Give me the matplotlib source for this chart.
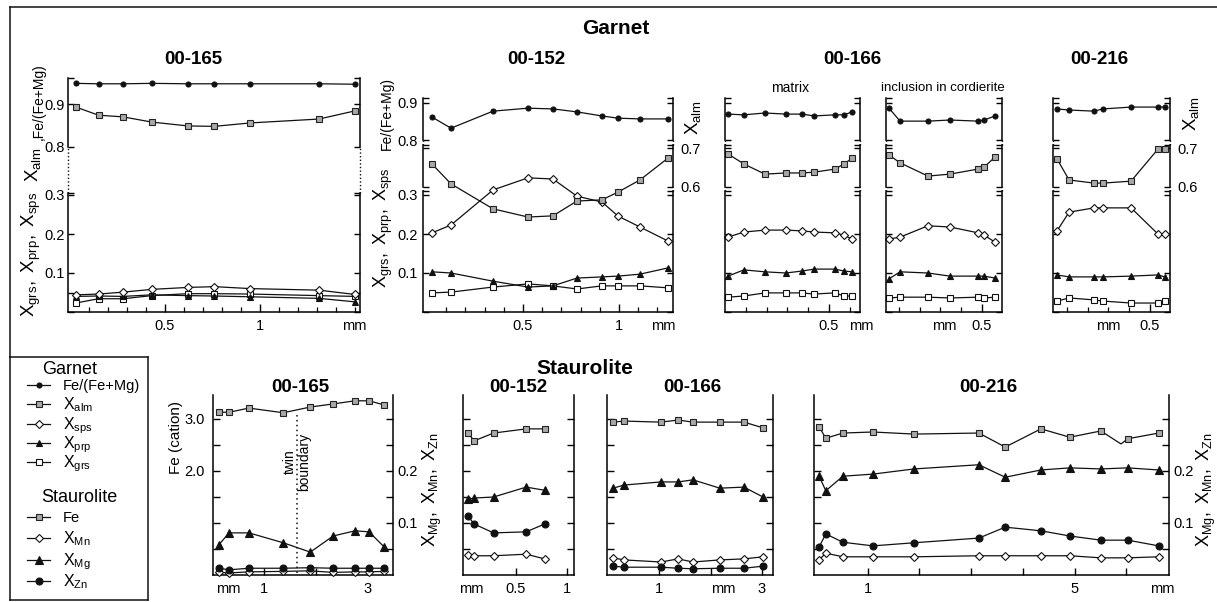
import numpy as np
import matplotlib.pyplot as plt
from matplotlib.lines import Line2D

plt.rcParams['font.family'] = ['Liberation Sans', 'DejaVu Sans']
plt.rcParams['mathtext.fontset'] = 'custom'
plt.rcParams['mathtext.rm'] = 'Liberation Sans'
plt.rcParams['mathtext.it'] = 'Liberation Sans:italic'
plt.rcParams['mathtext.bf'] = 'Liberation Sans:bold'

# ---------------- garnet profiles (distance in mm) ----------------
g165_x = [0.03, 0.15, 0.28, 0.43, 0.62, 0.76, 0.95, 1.31, 1.50]
g165_fe = [0.948, 0.947, 0.947, 0.948, 0.947, 0.947, 0.947, 0.947, 0.946]
g165_alm = [0.893, 0.874, 0.870, 0.858, 0.849, 0.848, 0.856, 0.865, 0.884]
g165_sps = [0.044, 0.046, 0.051, 0.058, 0.063, 0.065, 0.060, 0.056, 0.045]
g165_prp = [0.040, 0.041, 0.040, 0.044, 0.042, 0.041, 0.039, 0.035, 0.026]
g165_grs = [0.023, 0.034, 0.034, 0.042, 0.047, 0.047, 0.046, 0.042, 0.040]

g152_x = [0.026, 0.125, 0.344, 0.526, 0.656, 0.781, 0.911, 0.995, 1.109, 1.255]
g152_fe = [0.862, 0.832, 0.878, 0.886, 0.884, 0.876, 0.865, 0.859, 0.857, 0.857]
g152_alm = [0.659, 0.608, 0.544, 0.523, 0.526, 0.564, 0.567, 0.587, 0.618, 0.674]
g152_sps = [0.203, 0.223, 0.313, 0.344, 0.341, 0.297, 0.282, 0.246, 0.218, 0.182]
g152_prp = [0.103, 0.100, 0.079, 0.064, 0.067, 0.087, 0.090, 0.092, 0.097, 0.113]
g152_grs = [0.049, 0.051, 0.064, 0.072, 0.067, 0.059, 0.067, 0.067, 0.067, 0.062]

g166m_x = [0.014, 0.091, 0.192, 0.293, 0.370, 0.428, 0.529, 0.572, 0.611]
g166m_fe = [0.870, 0.868, 0.873, 0.870, 0.870, 0.865, 0.868, 0.868, 0.876]
g166m_alm = [0.685, 0.659, 0.633, 0.636, 0.636, 0.638, 0.646, 0.659, 0.674]
g166m_sps = [0.192, 0.205, 0.210, 0.210, 0.208, 0.205, 0.203, 0.197, 0.187]
g166m_prp = [0.092, 0.108, 0.103, 0.100, 0.105, 0.110, 0.110, 0.105, 0.103]
g166m_grs = [0.038, 0.041, 0.049, 0.049, 0.049, 0.046, 0.049, 0.041, 0.041]

g166i_x = [0.053, 0.106, 0.240, 0.346, 0.481, 0.510, 0.563]
g166i_fe = [0.886, 0.851, 0.851, 0.854, 0.851, 0.854, 0.865]
g166i_alm = [0.682, 0.662, 0.628, 0.633, 0.646, 0.651, 0.677]
g166i_sps = [0.187, 0.192, 0.221, 0.218, 0.203, 0.197, 0.179]
g166i_prp = [0.085, 0.103, 0.100, 0.092, 0.092, 0.092, 0.087]
g166i_grs = [0.036, 0.038, 0.038, 0.036, 0.038, 0.036, 0.038]

g216_x = [0.053, 0.111, 0.231, 0.274, 0.409, 0.538, 0.572]
g216_fe = [0.884, 0.881, 0.878, 0.884, 0.889, 0.889, 0.889]
g216_alm = [0.672, 0.618, 0.610, 0.610, 0.615, 0.697, 0.697]
g216_sps = [0.208, 0.256, 0.267, 0.267, 0.267, 0.200, 0.200]
g216_prp = [0.095, 0.090, 0.090, 0.090, 0.092, 0.095, 0.090]
g216_grs = [0.028, 0.036, 0.031, 0.028, 0.023, 0.023, 0.028]

# ---------------- staurolite profiles ----------------
s165_x = [0.13, 0.33, 0.71, 1.37, 1.89, 2.33, 2.75, 3.02, 3.31]
s165_fe = [3.13, 3.13, 3.21, 3.12, 3.23, 3.29, 3.35, 3.35, 3.27]
s165_mg = [0.058, 0.081, 0.081, 0.062, 0.044, 0.075, 0.085, 0.083, 0.054]
s165_zn = [0.013, 0.010, 0.013, 0.013, 0.014, 0.013, 0.013, 0.013, 0.013]
s165_mn = [0.005, 0.004, 0.006, 0.007, 0.008, 0.005, 0.006, 0.006, 0.007]
s165_twin = 1.63

s152_x = [0.03, 0.09, 0.28, 0.60, 0.78]
s152_fe = [2.73, 2.58, 2.73, 2.81, 2.81]
s152_mg = [0.146, 0.148, 0.150, 0.169, 0.163]
s152_zn = [0.113, 0.098, 0.081, 0.083, 0.098]
s152_mn = [0.038, 0.037, 0.037, 0.040, 0.031]

s166_x = [0.11, 0.32, 1.04, 1.37, 1.66, 2.18, 2.65, 3.02]
s166_fe = [2.94, 2.96, 2.94, 2.98, 2.94, 2.94, 2.94, 2.83]
s166_mg = [0.167, 0.173, 0.179, 0.179, 0.183, 0.167, 0.169, 0.150]
s166_mn = [0.033, 0.029, 0.025, 0.031, 0.025, 0.029, 0.031, 0.035]
s166_zn = [0.017, 0.015, 0.015, 0.013, 0.012, 0.013, 0.013, 0.017]

s216_x = [0.06, 0.19, 0.52, 1.10, 1.90, 3.15, 3.66, 4.35, 4.91, 5.51, 6.03, 6.63]
s216_fe_x = [0.06, 0.19, 0.52, 1.10, 1.90, 3.15, 3.66, 4.35, 4.91, 5.51, 5.90, 6.03, 6.63]
s216_fe = [2.85, 2.63, 2.73, 2.75, 2.71, 2.73, 2.46, 2.81, 2.65, 2.77, 2.52, 2.62, 2.73]
s216_fe_nomark = [10]
s216_mg = [0.190, 0.162, 0.190, 0.194, 0.204, 0.212, 0.188, 0.202, 0.206, 0.204, 0.206, 0.202]
s216_zn = [0.054, 0.079, 0.063, 0.056, 0.062, 0.071, 0.092, 0.085, 0.075, 0.067, 0.067, 0.056]
s216_mn = [0.029, 0.042, 0.035, 0.035, 0.035, 0.037, 0.037, 0.037, 0.037, 0.033, 0.033, 0.035]

leg_garnet = ['Fe/(Fe+Mg)', r'$\mathregular{X_{alm}}$', r'$\mathregular{X_{sps}}$',
              r'$\mathregular{X_{prp}}$', r'$\mathregular{X_{grs}}$']
leg_staur = ['Fe', r'$\mathregular{X_{Mn}}$', r'$\mathregular{X_{Mg}}$', r'$\mathregular{X_{Zn}}$']

# ---------------- styles / layout (pixels of a 1217x602 canvas) ----------------
W, H = 1217, 602
LW = 0.9
INK = '#111111'
ST = {
    'fe': dict(marker='o', ms=3.6, mfc=INK, mec=INK),
    'alm': dict(marker='s', ms=4.2, mfc='#a8a8a8', mec='#222222'),
    'sps': dict(marker='D', ms=4.3, mfc='white', mec=INK),
    'prp': dict(marker='^', ms=5.0, mfc=INK, mec=INK),
    'grs': dict(marker='s', ms=4.2, mfc='white', mec=INK),
}
STA = {
    'Fe': dict(marker='s', ms=4.3, mfc='#a8a8a8', mec='#222222'),
    'Mn': dict(marker='D', ms=4.3, mfc='white', mec=INK),
    'Mg': dict(marker='^', ms=5.6, mfc=INK, mec=INK),
    'Zn': dict(marker='o', ms=5.0, mfc=INK, mec=INK),
}
YB = 312                  # garnet x-axis row
LOW = (0.0, 312, 390)     # value, pixel row, pixels per unit
FE1 = (0.9, 104, 430)
FE2 = (0.9, 103, 370)
ALM = (0.7, 148, 390)
SFE = (0.0, 575, 52)
SX = (0.0, 575, 520)

fig = plt.figure(figsize=(W / 100, H / 100), dpi=100)


def fx(x):
    return x / W


def fy(y):
    return 1 - y / H


def put(x, y, s, size=10.5, **kw):
    fig.text(fx(x), fy(y), s, fontsize=size, ha=kw.pop('ha', 'center'),
             va=kw.pop('va', 'center'), **kw)


def new_axes(x0, x1, ytop, ybot, xzero, kx, sc):
    vref, yref, ky = sc
    ax = fig.add_axes([fx(x0), fy(ybot), (x1 - x0) / W, (ybot - ytop) / H])
    ax.set_xlim((x0 - xzero) / kx, (x1 - xzero) / kx)
    ax.set_ylim(vref - (ybot - yref) / ky, vref + (yref - ytop) / ky)
    ax.patch.set_visible(False)
    for s in ax.spines.values():
        s.set_visible(False)
        s.set_linewidth(1.1)
    ax.set_xticks([])
    ax.set_yticks([])
    return ax


def pix2val(sc, y):
    vref, yref, ky = sc
    return vref + (yref - y) / ky


def segment(ax, sc, ytop, ybot, ticks, labels, lab_left=False, lab_right=False, pad=3):
    lo, hi = pix2val(sc, ybot), pix2val(sc, ytop)
    for side in ('left', 'right'):
        ax.spines[side].set_visible(True)
        ax.spines[side].set_bounds(lo, hi)
    locs, labs = list(ticks), list(labels)
    for end in (lo, hi):
        if min(abs(end - t) for t in ticks) > 1e-3:
            locs.append(end)
            labs.append('')
    ax.set_yticks(locs, labs)
    ax.tick_params(axis='y', direction='in', left=True, right=True, length=4, width=1,
                   labelleft=lab_left, labelright=lab_right, labelsize=10.5, pad=pad)


def dotted(ax, sc, ytop, ybot):
    lo, hi = pix2val(sc, ybot), pix2val(sc, ytop)
    for xa in (0, 1):
        ax.plot([xa, xa], [lo, hi], transform=ax.get_yaxis_transform(), color=INK,
                lw=1, ls=(0, (1, 1.6)), clip_on=False)


def series(ax, x, y, st, **kw):
    ax.plot(x, y, color=INK, lw=LW, mew=0.8, clip_on=False, **st, **kw)


def x_axis(ax, xmaj, xmaj_lab, xmin):
    ax.spines['bottom'].set_visible(True)
    ax.set_xticks(xmaj, xmaj_lab)
    ax.set_xticks(xmin, minor=True)
    ax.tick_params(axis='x', which='major', direction='in', length=6, width=1,
                   labelsize=10.5, pad=5)
    ax.tick_params(axis='x', which='minor', direction='in', length=3.5, width=0.9)


def garnet3(x0, x1, xzero, kx, xmaj, xmaj_lab, xmin, x, fe, alm, sps, prp, grs,
            lab_left=False, lab_right=False):
    low = new_axes(x0, x1, 98, YB, xzero, kx, LOW)
    x_axis(low, xmaj, xmaj_lab, xmin)
    segment(low, LOW, 191, YB, [0.1, 0.2, 0.3], ['0.1', '0.2', '0.3'], lab_left=lab_left, pad=4)
    fea = new_axes(x0, x1, 98, YB, xzero, kx, FE2)
    segment(fea, FE2, 98, 140, [0.8, 0.9], ['0.8', '0.9'], lab_left=lab_left, pad=4)
    ala = new_axes(x0, x1, 98, YB, xzero, kx, ALM)
    segment(ala, ALM, 145, 187, [0.6, 0.7], ['0.6', '0.7'], lab_right=lab_right, pad=5)
    dotted(fea, FE2, 140, 145)
    dotted(ala, ALM, 187, 191)
    series(low, x, grs, ST['grs'])
    series(low, x, prp, ST['prp'])
    series(low, x, sps, ST['sps'])
    series(ala, x, alm, ST['alm'])
    series(fea, x, fe, ST['fe'])


def stau(x0, x1, xzero, kx, xt, xt_lab, x, fe_x, fe, mn, mg, zn,
         lab_left=False, lab_right=False, fe_mark=None):
    ax = new_axes(x0, x1, 395, 575, xzero, kx, SFE)
    ax2 = new_axes(x0, x1, 395, 575, xzero, kx, SX)
    for s in ('left', 'right', 'bottom'):
        ax.spines[s].set_visible(True)
    ax.set_xticks(xt, xt_lab)
    ax.tick_params(axis='x', direction='in', length=5, width=1, labelsize=10.5, pad=5)
    ax.set_yticks([0.5, 1, 1.5, 2, 2.5, 3], ['', '', '', '2.0', '', '3.0'])
    ax.tick_params(axis='y', direction='in', left=True, right=False, length=5, width=1,
                   labelleft=lab_left, labelsize=10.5, pad=6)
    ax2.set_yticks([0.05, 0.1, 0.15, 0.2, 0.25, 0.3], ['', '0.1', '', '0.2', '', ''])
    ax2.tick_params(axis='y', direction='in', left=False, right=True, length=5, width=1,
                    labelleft=False, labelright=lab_right, labelsize=10.5, pad=3)
    series(ax2, x, mn, STA['Mn'])
    series(ax2, x, zn, STA['Zn'])
    series(ax2, x, mg, STA['Mg'])
    if fe_mark is None:
        series(ax, fe_x, fe, STA['Fe'])
    else:
        series(ax, fe_x, fe, STA['Fe'], markevery=fe_mark)
    return ax


# ---------------- garnet 00-165 (two scales) ----------------
low = new_axes(68, 360, 78, YB, 70, 190, LOW)
x_axis(low, [0.5, 1.0], ['0.5', '1'], np.arange(0.1, 1.55, 0.1))
segment(low, LOW, 193, YB, [0.05, 0.1, 0.2, 0.3], ['', '0.1', '0.2', '0.3'], lab_left=True, pad=2)
fea = new_axes(68, 360, 78, YB, 70, 190, FE1)
segment(fea, FE1, 78, 147, [0.8, 0.9], ['0.8', '0.9'], lab_left=True, pad=2)
dotted(fea, FE1, 147, 193)
series(low, g165_x, g165_grs, ST['grs'])
series(low, g165_x, g165_prp, ST['prp'])
series(low, g165_x, g165_sps, ST['sps'])
series(fea, g165_x, g165_alm, ST['alm'])
series(fea, g165_x, g165_fe, ST['fe'])

# ---------------- garnet 00-152, 00-166, 00-216 ----------------
garnet3(423, 673, 427, 192, [0.5, 1.0], ['0.5', '1'], np.arange(0.1, 1.25, 0.1),
        g152_x, g152_fe, g152_alm, g152_sps, g152_prp, g152_grs, lab_left=True, lab_right=True)
garnet3(725, 860, 725, 208, [0.5], ['0.5'], np.arange(0.1, 0.65, 0.1),
        g166m_x, g166m_fe, g166m_alm, g166m_sps, g166m_prp, g166m_grs)
garnet3(886, 1002, 878, 208, [0.5], ['0.5'], np.arange(0.1, 0.55, 0.1),
        g166i_x, g166i_fe, g166i_alm, g166i_sps, g166i_prp, g166i_grs)
garnet3(1053, 1170, 1046, 208, [0.5], ['0.5'], np.arange(0.1, 0.55, 0.1),
        g216_x, g216_fe, g216_alm, g216_sps, g216_prp, g216_grs, lab_right=True)

# ---------------- staurolite ----------------
a165 = stau(213, 393, 212, 52, [1, 2, 3], ['1', '', '3'], s165_x, s165_x, s165_fe,
            s165_mn, s165_mg, s165_zn, lab_left=True, lab_right=True)
a165.axvline(s165_twin, ymin=0.01, ymax=0.9, color=INK, lw=1.1, ls=(0, (1, 2.2)))
stau(463, 574, 465, 102, [0.5, 1], ['0.5', '1'], s152_x, s152_x, s152_fe,
     s152_mn, s152_mg, s152_zn)
stau(607, 773, 607.5, 51.5, [1, 2, 3], ['1', '', '3'], s166_x, s166_x, s166_fe,
     s166_mn, s166_mg, s166_zn)
marks = [i for i in range(len(s216_fe_x)) if i not in s216_fe_nomark]
stau(814, 1169, 816, 51.7, [1, 2, 3, 4, 5, 6], ['1', '', '', '', '5', ''], s216_x, s216_fe_x,
     s216_fe, s216_mn, s216_mg, s216_zn, lab_right=True, fe_mark=marks)

# ---------------- texts ----------------
put(616, 28, 'Garnet', 15, fontweight='bold')
put(585, 368, 'Staurolite', 15, fontweight='bold')
for xx, t in [(193, '00-165'), (536, '00-152'), (852, '00-166'), (1099, '00-216')]:
    put(xx, 60, t, 13.5, fontweight='bold')
for xx, t in [(300, '00-165'), (518, '00-152'), (692, '00-166'), (988, '00-216')]:
    put(xx, 387, t, 13.5, fontweight='bold')
put(790, 88, 'matrix', 10)
put(943, 88, 'inclusion in cordierite', 9.5)
for xx in (354, 663, 861, 944, 1108):
    put(xx, 326, 'mm', 10.5)
for xx in (228, 471, 723, 1162):
    put(xx, 589, 'mm', 10.5)

xgrs = r'$\mathregular{X_{grs},\ X_{prp},\ X_{sps}}$'
put(31, 254, xgrs, 13.5, rotation=90)
put(33, 165, r'$\mathregular{X_{alm}}$', 13.5, rotation=90)
put(39, 102, ',Fe/(Fe+Mg)', 10, rotation=90)
put(387, 114, 'Fe/(Fe+Mg)', 10, rotation=90)
put(383, 228, xgrs, 13, rotation=90)
put(693, 118, r'$\mathregular{X_{alm}}$', 13.5, rotation=90)
put(1191, 114, r'$\mathregular{X_{alm}}$', 13.5, rotation=90)
xmg = r'$\mathregular{X_{Mg},\ X_{Mn},\ X_{Zn}}$'
put(432, 490, xmg, 13, rotation=90)
put(1206, 490, xmg, 13, rotation=90)
put(176, 437, 'Fe (cation)', 11, rotation=90)
put(297, 462, 'twin\nboundary', 10, rotation=90, linespacing=1.0)

# ---------------- frame ----------------
fig.add_artist(Line2D([fx(10), fx(10)], [fy(7), fy(357)], transform=fig.transFigure,
                      color=INK, lw=1.1))
fig.add_artist(Line2D([fx(10), fx(1217)], [fy(7), fy(7)], transform=fig.transFigure,
                      color=INK, lw=1.1))

# ---------------- legend box ----------------
leg = fig.add_axes([fx(10), fy(600), 138 / W, 243 / H])
leg.set_xlim(10, 148)
leg.set_ylim(600, 357)
leg.set_xticks([])
leg.set_yticks([])
for s in leg.spines.values():
    s.set_linewidth(1.1)
    s.set_color(INK)
leg.text(70, 370, 'Garnet', fontsize=13, ha='center', va='center')
leg.text(79, 498, 'Staurolite', fontsize=13, ha='center', va='center')
rows_g = [385, 404, 424, 443, 462]
rows_s = [517, 538, 560, 581]
for yy, lab, key in zip(rows_g, leg_garnet, ['fe', 'alm', 'sps', 'prp', 'grs']):
    leg.plot([27, 50], [yy, yy], color=INK, lw=LW)
    leg.plot([38.5], [yy], color=INK, mew=0.8, **ST[key])
    leg.text(63, yy + 5, lab, fontsize=10.5 if key == 'fe' else 11.5, va='baseline')
for yy, lab, key in zip(rows_s, leg_staur, ['Fe', 'Mn', 'Mg', 'Zn']):
    leg.plot([27, 50], [yy, yy], color=INK, lw=LW)
    leg.plot([38.5], [yy], color=INK, mew=0.8, **STA[key])
    leg.text(63, yy + 5, lab, fontsize=10.5 if key == 'Fe' else 11.5, va='baseline')

fig.savefig('out.png', dpi=100)
